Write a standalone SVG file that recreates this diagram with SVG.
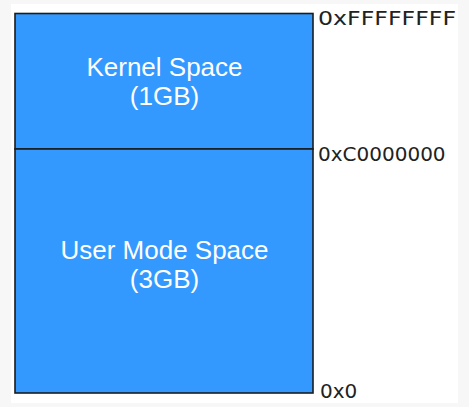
<svg xmlns="http://www.w3.org/2000/svg" width="469" height="407" viewBox="0 0 469 407">
<style>
.box{fill:#3399ff;stroke:#1c1c1c;stroke-width:1.6}
.in{font-family:"Liberation Sans",Arial,sans-serif;font-size:26px;fill:#ffffff;text-anchor:middle}
.addr{fill:#222222;font-family:"DejaVu Sans",sans-serif;font-size:20px}
</style>
<rect x="0" y="0" width="469" height="407" fill="#f7f7f7"/>
<rect x="11" y="4" width="447" height="399" fill="#ffffff"/>
<g id="kernel">
<rect class="box" x="15" y="13.5" width="298" height="135.5"/>
<text class="in" x="164.5" y="76">Kernel Space</text>
<text class="in" x="164.5" y="105">(1GB)</text>
</g>
<g id="user">
<rect class="box" x="15" y="149" width="298" height="244"/>
<text class="in" x="164.5" y="259">User Mode Space</text>
<text class="in" x="164.5" y="288">(3GB)</text>
</g>
<g id="connectors"></g>
<g id="labels">
<text class="addr" x="318" y="24.5" textLength="138" lengthAdjust="spacingAndGlyphs">0xFFFFFFFF</text>
<text class="addr" x="318" y="160.5">0xC0000000</text>
<text class="addr" x="320" y="398">0x0</text>
</g>
</svg>
